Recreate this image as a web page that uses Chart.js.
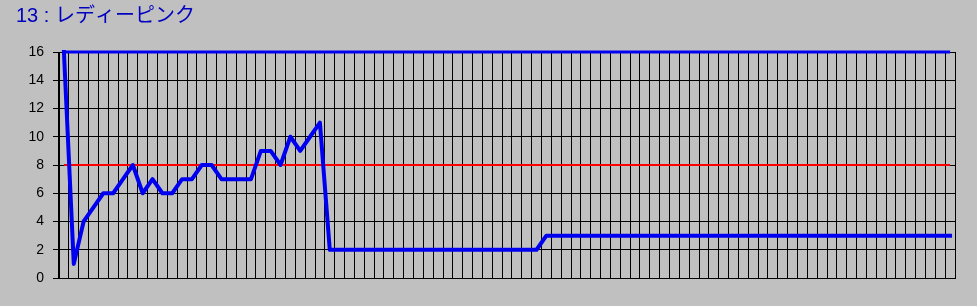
<!DOCTYPE html>
<html>
<head>
<meta charset="utf-8">
<title>13 : レディーピンク</title>
<script src="https://cdn.jsdelivr.net/npm/chart.js@4.4.1/dist/chart.umd.min.js"></script>
<style>
    html, body { margin: 0; padding: 0; background: #c0c0c0; }
    #chart { display: block; }
</style>
</head>
<body>
<canvas id="chart" width="977" height="306"></canvas>
<script>
const chartTitle = '13 : レディーピンク';

// reading per race, left to right
const values = [
    16, 1, 4, 5, 6, 6, 7, 8, 6, 7,
    6, 6, 7, 7, 8, 8, 7, 7, 7, 7,
    9, 9, 8, 10, 9, 10, 11, 2, 2, 2,
    2, 2, 2, 2, 2, 2, 2, 2, 2, 2,
    2, 2, 2, 2, 2, 2, 2, 2, 2, 3,
    3, 3, 3, 3, 3, 3, 3, 3, 3, 3,
    3, 3, 3, 3, 3, 3, 3, 3, 3, 3,
    3, 3, 3, 3, 3, 3, 3, 3, 3, 3,
    3, 3, 3, 3, 3, 3, 3, 3, 3, 3,
    3
];

// red reference line at 8
const middleLine = [
    8, 8, 8, 8, 8, 8, 8, 8, 8, 8,
    8, 8, 8, 8, 8, 8, 8, 8, 8, 8,
    8, 8, 8, 8, 8, 8, 8, 8, 8, 8,
    8, 8, 8, 8, 8, 8, 8, 8, 8, 8,
    8, 8, 8, 8, 8, 8, 8, 8, 8, 8,
    8, 8, 8, 8, 8, 8, 8, 8, 8, 8,
    8, 8, 8, 8, 8, 8, 8, 8, 8, 8,
    8, 8, 8, 8, 8, 8, 8, 8, 8, 8,
    8, 8, 8, 8, 8, 8, 8, 8, 8, 8,
    8
];

// blue line along the top at 16
const topLine = [
    16, 16, 16, 16, 16, 16, 16, 16, 16, 16,
    16, 16, 16, 16, 16, 16, 16, 16, 16, 16,
    16, 16, 16, 16, 16, 16, 16, 16, 16, 16,
    16, 16, 16, 16, 16, 16, 16, 16, 16, 16,
    16, 16, 16, 16, 16, 16, 16, 16, 16, 16,
    16, 16, 16, 16, 16, 16, 16, 16, 16, 16,
    16, 16, 16, 16, 16, 16, 16, 16, 16, 16,
    16, 16, 16, 16, 16, 16, 16, 16, 16, 16,
    16, 16, 16, 16, 16, 16, 16, 16, 16, 16,
    16
];

const categories = values.map((v, i) => String(i + 1));
const yTicks = [0, 2, 4, 6, 8, 10, 12, 14, 16];

new Chart(document.getElementById('chart'), {
    type: 'line',
    data: {
        labels: categories,
        datasets: [{
            data: values,
            borderColor: '#0000f0',
            borderWidth: 4,
            borderJoinStyle: 'round',
            borderCapStyle: 'square',
            pointRadius: 0,
            tension: 0,
            clip: false
        }, {
            data: middleLine,
            borderColor: '#ff0000',
            borderWidth: 2,
            pointRadius: 0
        }, {
            data: topLine,
            borderColor: '#0000f0',
            borderWidth: 3,
            pointRadius: 0,
            clip: false
        }]
    },
    options: {
        responsive: false,
        animation: false,
        layout: {
            padding: { top: 0, right: 22, bottom: 28, left: 16 }
        },
        plugins: {
            legend: { display: false },
            tooltip: { enabled: false },
            title: {
                display: true,
                text: chartTitle,
                align: 'start',
                color: '#0000c0',
                font: { family: '"Liberation Sans", "Noto Sans CJK JP", sans-serif', size: 20, weight: 'normal' },
                padding: { top: 4, bottom: 24 }
            }
        },
        scales: {
            x: {
                offset: true,
                grid: {
                    offset: true,
                    color: '#000000',
                    lineWidth: 1,
                    drawTicks: false
                },
                border: { display: true, color: '#000000' },
                ticks: { display: false }
            },
            y: {
                min: 0,
                max: 16,
                afterFit: (scale) => { scale.width = 43; },
                afterBuildTicks: (scale) => {
                    scale.ticks = yTicks.map(v => ({ value: v }));
                },
                grid: {
                    color: '#000000',
                    lineWidth: 1,
                    tickLength: 6
                },
                border: { display: true, color: '#000000' },
                ticks: {
                    color: '#000000',
                    padding: 9,
                    font: { family: '"Liberation Sans", Arial, sans-serif', size: 14 }
                }
            }
        }
    }
});
</script>
</body>
</html>
